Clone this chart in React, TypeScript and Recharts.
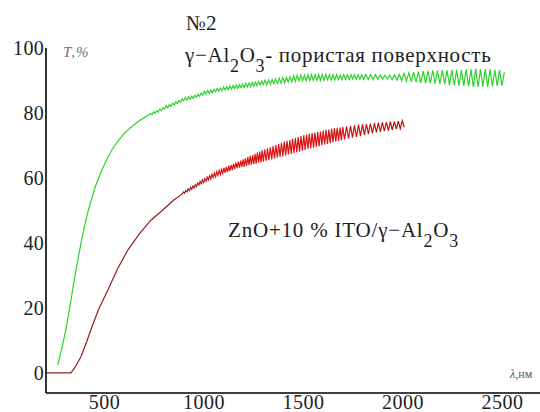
import React from "react";
import { LineChart, Line, XAxis, YAxis } from "recharts";

// Axis ticks
const X_TICKS = [500, 1000, 1500, 2000, 2500];
const Y_TICKS = [0, 20, 40, 60, 80, 100];
const X_DOMAIN: [number, number] = [206, 2688];
const Y_DOMAIN: [number, number] = [-6.2, 100];

// γ-Al2O3 porous surface: absorption edge (λ nm, T %)
const GREEN_EDGE: [number, number][] = [
  [265, 2.5], [285, 7.5], [305, 13], [325, 20], [345, 27.5], [365, 34.5],
  [390, 42.5], [410, 48], [430, 52.5], [455, 57.5], [480, 61.5], [510, 65.5],
  [540, 69], [570, 71.5], [600, 73.8], [640, 76], [680, 77.8], [720, 79.3],
];
// interference fringes, sampled on a regular λ grid
const GREEN_FRINGE_A_START = 730;
const GREEN_FRINGE_A_STEP = 8;
const GREEN_FRINGE_A = [
  79.8, 79.4, 80.3, 79.9, 80.7, 80.3, 81.2, 80.8, 81.6, 81.2,
  82.2, 81.6, 82.6, 82.0, 83.0, 82.5, 83.5, 82.9, 83.9, 83.3,
  84.3, 83.8, 84.7, 84.0, 85.0, 84.3, 85.2, 84.5, 85.5, 84.8,
  85.8, 85.1, 86.1, 85.5, 86.7, 85.8, 86.9, 86.0, 87.1, 86.2,
  87.3, 86.5, 87.5, 86.7, 87.7, 86.9, 88.0, 87.1, 88.1, 87.2,
  88.3, 87.3, 88.4, 87.5, 88.6, 87.6, 88.7, 87.8, 88.9, 87.8,
  89.1, 88.0, 89.2, 88.1, 89.4, 88.3, 89.5, 88.4, 89.7, 88.6,
  89.8, 88.7,
];
const GREEN_FRINGE_B_START = 1306;
const GREEN_FRINGE_B_STEP = 9;
const GREEN_FRINGE_B = [
  90.1, 88.7, 90.2, 88.9, 90.3, 89.0, 90.5, 89.1, 90.7, 89.2,
  90.9, 89.3, 91.0, 89.5, 91.2, 89.6, 91.4, 89.7, 91.6, 89.9,
  91.7, 89.9, 91.7, 89.9, 91.8, 90.0, 91.8, 90.0, 91.8, 90.0,
  91.9, 90.0, 91.9, 90.1, 91.9, 90.2, 91.8, 90.2, 91.8, 90.2,
  91.8, 90.2, 91.7, 90.3, 91.8, 90.3, 91.8, 90.3, 91.8, 90.4,
  91.8, 90.4, 91.8, 90.4, 91.8,
];
const GREEN_FRINGE_C_START = 1801;
const GREEN_FRINGE_C_STEP = 12;
const GREEN_FRINGE_C = [
  90.3, 91.9, 90.3, 91.9, 90.3, 91.8, 90.4, 91.7, 90.4, 91.6,
  90.4, 91.6, 90.3, 91.7, 90.1, 91.9, 89.9, 92.2, 89.8, 92.4,
  89.6, 92.6, 89.5, 92.7, 89.3, 92.9, 89.2, 93.0, 89.1, 93.1,
  89.0, 93.1, 88.9, 93.2, 88.8, 93.1, 88.6, 93.2, 88.6, 93.2,
  88.4, 93.2, 88.4, 93.4, 88.2, 93.4, 88.0, 93.6, 88.0, 93.5,
  88.1, 93.5, 88.1, 93.4, 88.2, 93.3, 88.3, 93.2, 88.4, 92.6,
];

// ZnO+10% ITO / γ-Al2O3: absorption edge (λ nm, T %)
const RED_EDGE: [number, number][] = [
  [206, 0], [331, 0], [350, 1.5], [381, 4.9], [410, 9.5], [431, 13.2],
  [470, 19.5], [517, 25.5], [565, 32], [617, 37.8], [675, 42.8], [733, 47],
  [790, 50], [848, 53.2], [890, 55],
];
const RED_FRINGE_A_START = 896;
const RED_FRINGE_A_STEP = 6;
const RED_FRINGE_A = [
  55.7, 55.3, 56.1, 55.7, 56.6, 56.1, 57.1, 56.5, 57.5, 56.9,
  57.9, 57.3, 58.4, 57.8, 58.9, 58.2, 59.4, 58.6, 59.8, 59.0,
  60.3, 59.4, 60.7, 59.7, 61.1, 60.1, 61.5, 60.4, 61.9, 60.8,
  62.3, 61.1, 62.6, 61.4, 63.1, 61.6, 63.4, 61.9, 63.8, 62.2,
  64.0, 62.4, 64.3, 62.7, 64.7, 63.0, 65.0, 63.2, 65.3, 63.4,
  65.7, 63.5, 66.0, 63.8, 66.4, 63.9, 66.8, 64.1, 67.0, 64.3,
  67.4, 64.4, 67.8, 64.7, 68.1, 64.8, 68.5, 65.0,
];
const RED_FRINGE_B_START = 1305;
const RED_FRINGE_B_STEP = 7;
const RED_FRINGE_B = [
  68.7, 65.3, 69.1, 65.5, 69.4, 65.7, 69.8, 66.0, 70.1, 66.2,
  70.5, 66.5, 70.8, 66.6, 71.2, 66.9, 71.4, 67.2, 71.7, 67.4,
  72.0, 67.6, 72.3, 67.9, 72.6, 68.1, 72.9, 68.4, 73.1, 68.6,
  73.3, 68.9, 73.6, 69.1, 73.8, 69.3, 74.0, 69.6, 74.1, 69.8,
  74.3, 70.1, 74.6, 70.3, 74.8, 70.5, 74.9, 70.7, 75.1, 71.0,
  75.3, 71.2, 75.4, 71.4, 75.5, 71.6, 75.7,
];
const RED_FRINGE_C_START = 1706;
const RED_FRINGE_C_STEP = 10;
const RED_FRINGE_C = [
  71.8, 75.9, 72.1, 76.0, 72.4, 76.2, 72.6, 76.4, 72.9, 76.5,
  73.2, 76.6, 73.5, 76.7, 73.7, 76.9, 74.0, 77.0, 74.2, 77.1,
  74.4, 77.2, 74.6, 77.3, 74.8, 77.4, 75.0, 77.5, 75.2, 77.6,
  75.6,
];

type Pt = { x: number; y: number };
const pairs = (p: [number, number][]): Pt[] => p.map(([x, y]) => ({ x, y }));
const grid = (start: number, step: number, t: number[]): Pt[] =>
  t.map((y, i) => ({ x: start + step * i, y }));

const greenData: Pt[] = [
  ...pairs(GREEN_EDGE),
  ...grid(GREEN_FRINGE_A_START, GREEN_FRINGE_A_STEP, GREEN_FRINGE_A),
  ...grid(GREEN_FRINGE_B_START, GREEN_FRINGE_B_STEP, GREEN_FRINGE_B),
  ...grid(GREEN_FRINGE_C_START, GREEN_FRINGE_C_STEP, GREEN_FRINGE_C),
];
const redData: Pt[] = [
  ...pairs(RED_EDGE),
  ...grid(RED_FRINGE_A_START, RED_FRINGE_A_STEP, RED_FRINGE_A),
  ...grid(RED_FRINGE_B_START, RED_FRINGE_B_STEP, RED_FRINGE_B),
  ...grid(RED_FRINGE_C_START, RED_FRINGE_C_STEP, RED_FRINGE_C),
];

const SERIF = "Liberation Serif, DejaVu Serif, serif";
const INK = "#1e1e1e";
const serifStyle = { fontFamily: SERIF };
const SUB_DY = 10;
const SUB_SIZE = 18;

const YTick = (props: any) => {
  const { x, y, payload } = props;
  return (
    <text x={x} y={y} dy={7} textAnchor="end" style={serifStyle} fontSize={20} letterSpacing={0.3} fill={INK}>
      {payload.value}
    </text>
  );
};

const XTick = (props: any) => {
  const { x, payload } = props;
  return (
    <text x={x} y={409} textAnchor="middle" style={serifStyle} fontSize={20} letterSpacing={0.5} fill={INK}>
      {payload.value}
    </text>
  );
};

export default function App() {
  return (
    <div style={{ position: "absolute", left: 0, top: 0, width: 540, height: 412, background: "#fff", fontFamily: SERIF }}>
      <LineChart
        width={540}
        height={412}
        margin={{ top: 48, right: 0, bottom: 0, left: 0 }}
        style={serifStyle}
      >
        <defs>
          <linearGradient id="redStroke" x1="0" y1="0" x2="1" y2="0">
            <stop offset="0" stopColor="#8a2222" />
            <stop offset="0.38" stopColor="#901c1c" />
            <stop offset="0.47" stopColor="#e01414" />
            <stop offset="0.85" stopColor="#d41212" />
            <stop offset="1" stopColor="#a81616" />
          </linearGradient>
        </defs>
        <XAxis
          type="number"
          dataKey="x"
          domain={X_DOMAIN}
          ticks={X_TICKS}
          allowDataOverflow
          height={19}
          axisLine={{ stroke: "#000", strokeWidth: 1.6 }}
          tickLine={false}
          tickSize={0}
          tick={<XTick />}
        />
        <YAxis
          type="number"
          dataKey="y"
          domain={Y_DOMAIN}
          ticks={Y_TICKS}
          allowDataOverflow
          width={46}
          axisLine={{ stroke: "#000", strokeWidth: 1.6 }}
          tickLine={false}
          tickSize={0}
          tickMargin={2}
          tick={<YTick />}
        />
        <Line
          data={greenData}
          dataKey="y"
          type="linear"
          stroke="#2bd42b"
          strokeWidth={1.2}
          dot={false}
          isAnimationActive={false}
        />
        <Line
          data={redData}
          dataKey="y"
          type="linear"
          stroke="url(#redStroke)"
          strokeWidth={1.2}
          dot={false}
          isAnimationActive={false}
        />
        <g style={serifStyle} fill={INK}>
          <text x={186} y={30} fontSize={21} style={serifStyle}>№2</text>
          <text x={185} y={62} fontSize={21} letterSpacing={0.7} style={serifStyle}>
            γ−Al<tspan dy={SUB_DY} fontSize={SUB_SIZE}>2</tspan>
            <tspan dy={-SUB_DY}>O</tspan>
            <tspan dy={SUB_DY} fontSize={SUB_SIZE}>3</tspan>
            <tspan dy={-SUB_DY}>- пористая поверхность</tspan>
          </text>
          <text x={63} y={57} fontSize={15} letterSpacing={1} fontStyle="italic" fill="#707070" style={serifStyle}>T,%</text>
          <text x={510} y={378} fontSize={12} fill="#555" style={serifStyle}>
            <tspan fontStyle="italic">λ</tspan>,нм
          </text>
          <text x={228} y={237} fontSize={21} letterSpacing={0.8} style={serifStyle}>
            ZnO+10 % ITO/γ−Al<tspan dy={SUB_DY} fontSize={SUB_SIZE}>2</tspan>
            <tspan dy={-SUB_DY}>O</tspan>
            <tspan dy={SUB_DY} fontSize={SUB_SIZE}>3</tspan>
          </text>
        </g>
      </LineChart>
    </div>
  );
}
